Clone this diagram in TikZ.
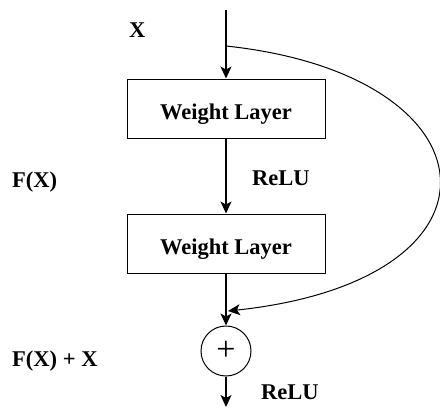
\documentclass[tikz,border=0pt]{standalone}
\usepackage{fontspec}
\setmainfont{Liberation Serif}
\usetikzlibrary{arrows.meta}
\begin{document}
\begin{tikzpicture}[x=1pt,y=-1pt,
  lbl/.style={font=\fontsize{22.5}{27}\selectfont\bfseries, inner sep=0pt, anchor=base west},
  layerbox/.style={draw, line width=1pt, minimum width=198pt, minimum height=59pt, inner sep=0pt,
    font=\fontsize{22.5}{27}\selectfont\bfseries, text height=21.5pt, text depth=0pt},
  sumnode/.style={draw, circle, line width=1pt, minimum size=50pt, inner sep=0pt,
    font=\fontsize{34}{34}\selectfont},
  flow/.style={line width=1.2pt, -{Stealth[length=12pt,width=11pt,inset=3pt]}}]
\useasboundingbox (0,0) rectangle (440,408);
\coordinate (in) at (226,10);
\coordinate (split) at (226,46);
\coordinate (join) at (228,311);
\coordinate (out) at (226,407);
\node[layerbox] (w1) at (226,108.5) {Weight Layer};
\node[layerbox] (w2) at (226,243.5) {Weight Layer};
\node[sumnode] (sum) at (226,351) {+};
\draw[flow] (in) -- (w1);
\draw[flow] (w1) -- (w2);
\draw[flow] (w2) -- (sum);
\draw[flow] (sum) -- (out);
\draw[flow, line width=1pt] (split) .. controls (500,75) and (520,280) .. (join);
\node[lbl] (xl) at (129,37) {X};
\node[lbl] (fx) at (12,187) {F(X)};
\node[lbl] (r1) at (252,185) {ReLU};
\node[lbl] (fxx) at (12,366) {F(X) + X};
\node[lbl] (r2) at (261,399) {ReLU};
\end{tikzpicture}
\end{document}
